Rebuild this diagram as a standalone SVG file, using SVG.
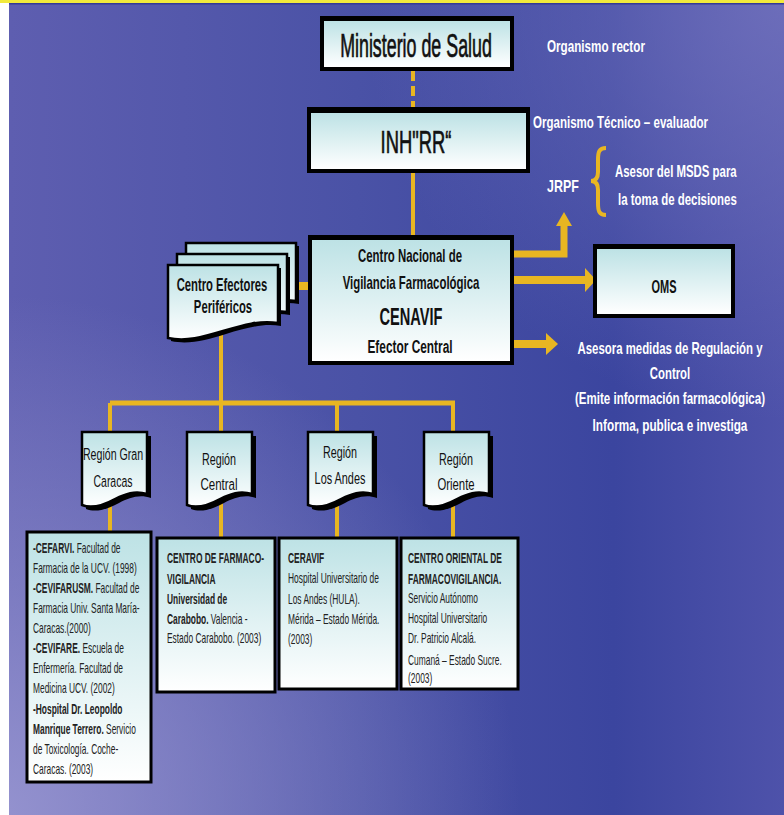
<svg xmlns="http://www.w3.org/2000/svg" width="784" height="815" viewBox="0 0 784 815">
<defs>
<linearGradient id="bg" x1="0" y1="0" x2="1" y2="0">
<stop offset="0" stop-color="#5e5eb0"/>
<stop offset="0.45" stop-color="#4a52a6"/>
<stop offset="0.78" stop-color="#3b459f"/>
<stop offset="1" stop-color="#4e52aa"/>
</linearGradient>
<radialGradient id="bl" cx="0" cy="815" r="520" gradientUnits="userSpaceOnUse">
<stop offset="0" stop-color="#9a98d2" stop-opacity="0.9"/>
<stop offset="1" stop-color="#9a98d2" stop-opacity="0"/>
</radialGradient>
<radialGradient id="tr" cx="784" cy="0" r="420" gradientUnits="userSpaceOnUse">
<stop offset="0" stop-color="#7474be" stop-opacity="0.8"/>
<stop offset="1" stop-color="#7474be" stop-opacity="0"/>
</radialGradient>
<linearGradient id="fill" x1="0" y1="0" x2="0" y2="1">
<stop offset="0" stop-color="#bde2e5"/>
<stop offset="1" stop-color="#ffffff"/>
</linearGradient>
<path id="doc" d="M0,0 H65 V62 C53,58 43,62 33,67 C22,73 10,77 0,73 Z"/>
<path id="doc2" d="M0,0 H110 V58 C92,55 75,60 55,66 C35,72 18,77 0,73 Z"/>
</defs>
<style>
.frame{fill:#000}
.box{fill:url(#fill)}
.ibox{fill:url(#fill);stroke:#000;stroke-width:3}
.shadow{fill:#000}
.docf{fill:url(#fill);stroke:#000;stroke-width:2.5}
.t{font-family:"Liberation Sans",Arial,sans-serif;fill:#111}
.med{stroke:#111;stroke-width:0.7}
.b{font-weight:bold}
.w{font-family:"Liberation Sans",Arial,sans-serif;font-weight:bold;font-size:16px;fill:#fff}
.y{stroke:#e8b622;fill:none}
.ah{fill:#e8b622}
.small{font-family:"Liberation Sans",Arial,sans-serif;font-size:14px;fill:#222}
</style>
<rect x="0" y="0" width="784" height="815" fill="#fff"/>
<rect x="9" y="3" width="775" height="812" fill="url(#bg)"/>
<rect x="9" y="3" width="775" height="812" fill="url(#bl)"/>
<rect x="9" y="3" width="775" height="812" fill="url(#tr)"/>
<rect x="0" y="0" width="784" height="3" fill="#f2ea3c"/>
<rect x="9" y="3" width="775" height="1.5" fill="#343a96"/>

<g id="connectors">
<line class="y" x1="413" y1="71" x2="413" y2="107" stroke-width="4" stroke-dasharray="10,5"/>
<line class="y" x1="413" y1="173" x2="413" y2="235" stroke-width="4"/>
<polyline class="y" points="514,254 564,254 564,224" stroke-width="7"/>
<polygon class="ah" points="556,226 572,226 564,212"/>
<line class="y" x1="514" y1="280" x2="587" y2="280" stroke-width="8"/>
<polygon class="ah" points="585,268 596,280 585,292"/>
<line class="y" x1="514" y1="344" x2="548" y2="344" stroke-width="8"/>
<polygon class="ah" points="546,333 558,344 546,355"/>
<line class="y" x1="290" y1="286" x2="308" y2="286" stroke-width="8"/>
<line class="y" x1="221" y1="334" x2="221" y2="403" stroke-width="4"/>
<line class="y" x1="110" y1="403" x2="455" y2="403" stroke-width="5"/>
<line class="y" x1="110" y1="403" x2="110" y2="432" stroke-width="4"/>
<line class="y" x1="221" y1="403" x2="221" y2="432" stroke-width="4"/>
<line class="y" x1="337" y1="403" x2="337" y2="432" stroke-width="4"/>
<line class="y" x1="453" y1="403" x2="453" y2="432" stroke-width="4"/>
<line class="y" x1="110" y1="500" x2="110" y2="532" stroke-width="4"/>
<line class="y" x1="221" y1="500" x2="221" y2="538" stroke-width="4"/>
<line class="y" x1="337" y1="500" x2="337" y2="538" stroke-width="4"/>
<line class="y" x1="453" y1="500" x2="453" y2="538" stroke-width="4"/>
<path class="y" stroke-width="4" d="M606,148 C599,148 598,152 598,160 L598,172 C598,178 596,181 591,181 C596,181 598,184 598,190 L598,203 C598,211 599,215 606,215"/>
</g>

<g id="ministerio">
<rect class="frame" x="320" y="16" width="194" height="55"/>
<rect class="box" x="324" y="21" width="186" height="46"/>
<text class="t med" transform="translate(416,57) scale(0.54,1)" font-size="33" text-anchor="middle" textLength="281" lengthAdjust="spacingAndGlyphs">Ministerio de Salud</text>
</g>
<text class="w" transform="translate(547,52) scale(0.72,1)" textLength="136" lengthAdjust="spacingAndGlyphs">Organismo rector</text>

<g id="inh">
<rect class="frame" x="307" y="107" width="223" height="66"/>
<rect class="box" x="311" y="113" width="215" height="56"/>
<text class="t med" transform="translate(416,153) scale(0.58,1)" font-size="32" text-anchor="middle" textLength="122" lengthAdjust="spacingAndGlyphs">INH&quot;RR“</text>
</g>
<text class="w" transform="translate(533,128) scale(0.72,1)" textLength="243" lengthAdjust="spacingAndGlyphs">Organismo Técnico – evaluador</text>

<g id="jrpf">
<text class="w" transform="translate(547,192) scale(0.6,1)" font-size="21" textLength="53" lengthAdjust="spacingAndGlyphs">JRPF</text>
<text class="w" transform="translate(615,177) scale(0.72,1)" textLength="169" lengthAdjust="spacingAndGlyphs">Asesor del MSDS para</text>
<text class="w" transform="translate(618,205) scale(0.72,1)" textLength="165" lengthAdjust="spacingAndGlyphs">la toma de decisiones</text>
</g>

<g id="cenavif">
<rect class="frame" x="308" y="235" width="206" height="130"/>
<rect class="box" x="312" y="240" width="198" height="121"/>
<text class="t b" transform="translate(410,262) scale(0.63,1)" font-size="18" text-anchor="middle" textLength="165" lengthAdjust="spacingAndGlyphs">Centro Nacional de</text>
<text class="t b" transform="translate(411,289) scale(0.63,1)" font-size="18" text-anchor="middle" textLength="217" lengthAdjust="spacingAndGlyphs">Vigilancia Farmacológica</text>
<text class="t b" transform="translate(411,325) scale(0.6,1)" font-size="24" text-anchor="middle" textLength="105" lengthAdjust="spacingAndGlyphs">CENAVIF</text>
<text class="t b" transform="translate(410,353) scale(0.66,1)" font-size="18" text-anchor="middle" textLength="129" lengthAdjust="spacingAndGlyphs">Efector Central</text>
</g>

<g id="oms">
<rect class="frame" x="593" y="244" width="142" height="74"/>
<rect class="box" x="597" y="249" width="134" height="65"/>
<text class="t b" transform="translate(664,293) scale(0.61,1)" font-size="18" text-anchor="middle" textLength="41" lengthAdjust="spacingAndGlyphs">OMS</text>
</g>

<g id="asesora">
<text class="w" transform="translate(670,354) scale(0.72,1)" text-anchor="middle" textLength="257" lengthAdjust="spacingAndGlyphs">Asesora medidas de Regulación y</text>
<text class="w" transform="translate(670,379) scale(0.72,1)" text-anchor="middle" textLength="56" lengthAdjust="spacingAndGlyphs">Control</text>
<text class="w" transform="translate(670,404) scale(0.72,1)" text-anchor="middle" textLength="264" lengthAdjust="spacingAndGlyphs">(Emite información farmacológica)</text>
<text class="w" transform="translate(670,431) scale(0.72,1)" text-anchor="middle" textLength="215" lengthAdjust="spacingAndGlyphs">Informa, publica e investiga</text>
</g>

<g id="efectores">
<use href="#doc2" class="shadow" x="189" y="246"/>
<use href="#doc2" class="docf" x="186" y="243"/>
<use href="#doc2" class="shadow" x="180" y="257"/>
<use href="#doc2" class="docf" x="177" y="254"/>
<use href="#doc2" class="shadow" x="171" y="268"/>
<use href="#doc2" class="docf" x="168" y="265"/>
<text class="t b" transform="translate(222,291) scale(0.63,1)" font-size="18" text-anchor="middle" textLength="144" lengthAdjust="spacingAndGlyphs">Centro Efectores</text>
<text class="t b" transform="translate(223,313) scale(0.62,1)" font-size="18" text-anchor="middle" textLength="94" lengthAdjust="spacingAndGlyphs">Periféricos</text>
</g>

<g id="region-gran-caracas">
<use href="#doc" class="shadow" x="86" y="436"/>
<use href="#doc" class="docf" x="82" y="432"/>
<text class="t" transform="translate(113,460) scale(0.62,1)" font-size="17" text-anchor="middle" textLength="97" lengthAdjust="spacingAndGlyphs">Región Gran</text>
<text class="t" transform="translate(113,487) scale(0.62,1)" font-size="17" text-anchor="middle" textLength="63" lengthAdjust="spacingAndGlyphs">Caracas</text>
</g>
<g id="region-central">
<use href="#doc" class="shadow" x="191" y="436"/>
<use href="#doc" class="docf" x="187" y="432"/>
<text class="t" transform="translate(219,465) scale(0.62,1)" font-size="17" text-anchor="middle" textLength="55" lengthAdjust="spacingAndGlyphs">Región</text>
<text class="t" transform="translate(219,490) scale(0.62,1)" font-size="17" text-anchor="middle" textLength="60" lengthAdjust="spacingAndGlyphs">Central</text>
</g>
<g id="region-los-andes">
<use href="#doc" class="shadow" x="312" y="436"/>
<use href="#doc" class="docf" x="308" y="432"/>
<text class="t" transform="translate(340,458) scale(0.62,1)" font-size="17" text-anchor="middle" textLength="55" lengthAdjust="spacingAndGlyphs">Región</text>
<text class="t" transform="translate(340,484) scale(0.62,1)" font-size="17" text-anchor="middle" textLength="82" lengthAdjust="spacingAndGlyphs">Los Andes</text>
</g>
<g id="region-oriente">
<use href="#doc" class="shadow" x="428" y="436"/>
<use href="#doc" class="docf" x="424" y="432"/>
<text class="t" transform="translate(456,465) scale(0.62,1)" font-size="17" text-anchor="middle" textLength="55" lengthAdjust="spacingAndGlyphs">Región</text>
<text class="t" transform="translate(456,490) scale(0.62,1)" font-size="17" text-anchor="middle" textLength="60" lengthAdjust="spacingAndGlyphs">Oriente</text>
</g>

<g id="info-gran-caracas">
<rect class="ibox" x="27" y="532" width="124" height="250"/>
<g transform="translate(33,0) scale(0.6,1)">
<text class="small" x="0" y="553"><tspan class="b">-CEFARVI.</tspan> Facultad de</text>
<text class="small" x="0" y="573">Farmacia de la UCV. (1998)</text>
<text class="small" x="0" y="593"><tspan class="b">-CEVIFARUSM.</tspan> Facultad de</text>
<text class="small" x="0" y="613">Farmacia Univ. Santa María-</text>
<text class="small" x="0" y="633">Caracas.(2000)</text>
<text class="small" x="0" y="653"><tspan class="b">-CEVIFARE.</tspan> Escuela de</text>
<text class="small" x="0" y="673">Enfermería. Facultad de</text>
<text class="small" x="0" y="693">Medicina UCV. (2002)</text>
<text class="small b" x="0" y="714">-Hospital Dr. Leopoldo</text>
<text class="small" x="0" y="734"><tspan class="b">Manrique Terrero.</tspan> Servicio</text>
<text class="small" x="0" y="754">de Toxicología. Coche-</text>
<text class="small" x="0" y="774">Caracas. (2003)</text>
</g>
</g>

<g id="info-central">
<rect class="ibox" x="157" y="538" width="118" height="154"/>
<g transform="translate(167,0) scale(0.6,1)">
<text class="small b" x="0" y="563">CENTRO DE FARMACO-</text>
<text class="small b" x="0" y="584">VIGILANCIA</text>
<text class="small b" x="0" y="604">Universidad de</text>
<text class="small" x="0" y="624"><tspan class="b">Carabobo.</tspan> Valencia -</text>
<text class="small" x="0" y="643">Estado Carabobo. (2003)</text>
</g>
</g>

<g id="info-los-andes">
<rect class="ibox" x="279" y="538" width="118" height="151"/>
<g transform="translate(288,0) scale(0.6,1)">
<text class="small b" x="0" y="563">CERAVIF</text>
<text class="small" x="0" y="583">Hospital Universitario de</text>
<text class="small" x="0" y="604">Los Andes (HULA).</text>
<text class="small" x="0" y="624">Mérida – Estado Mérida.</text>
<text class="small" x="0" y="644">(2003)</text>
</g>
</g>

<g id="info-oriente">
<rect class="ibox" x="401" y="538" width="117" height="151"/>
<g transform="translate(408,0) scale(0.6,1)">
<text class="small b" x="0" y="563">CENTRO ORIENTAL DE</text>
<text class="small b" x="0" y="584">FARMACOVIGILANCIA.</text>
<text class="small" x="0" y="603">Servicio Autónomo</text>
<text class="small" x="0" y="623">Hospital Universitario</text>
<text class="small" x="0" y="643">Dr. Patricio Alcalá.</text>
<text class="small" x="0" y="665">Cumaná – Estado Sucre.</text>
<text class="small" x="0" y="683">(2003)</text>
</g>
</g>
</svg>
